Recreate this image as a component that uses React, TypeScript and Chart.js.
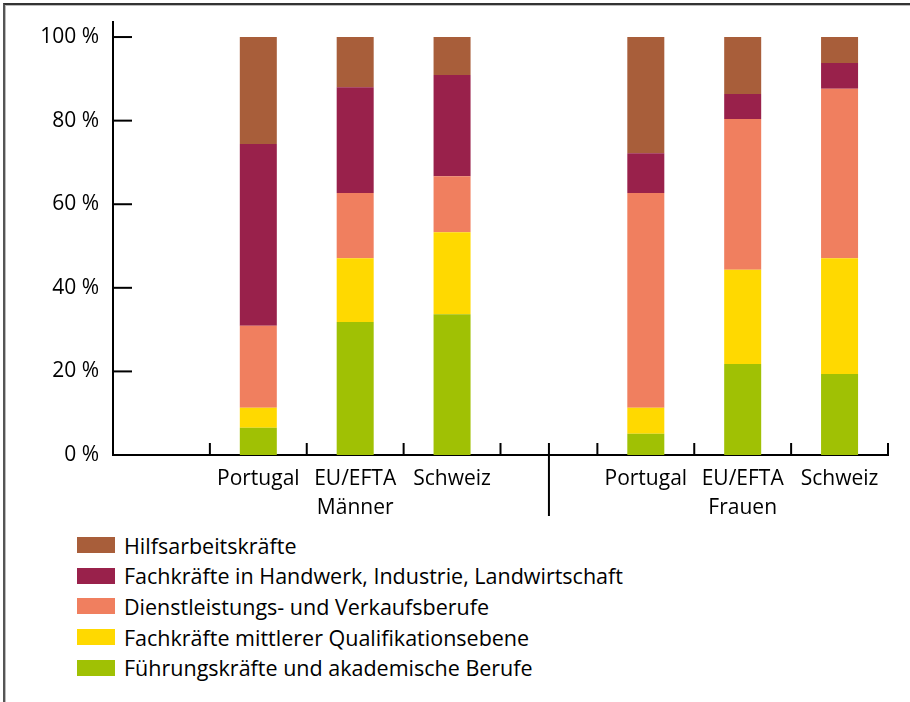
import React, { useEffect, useRef } from "react";
import { Chart, registerables } from "chart.js";

Chart.register(...registerables);

const categories: (string | string[])[] = [
  "",
  "Portugal",
  ["EU/EFTA", "Männer"],
  "Schweiz",
  "",
  "Portugal",
  ["EU/EFTA", "Frauen"],
  "Schweiz",
];

const fuehrung = [null, 6.5, 31.8, 33.7, null, 5.1, 21.8, 19.4];
const mittlere = [null, 4.8, 15.3, 19.6, null, 6.2, 22.5, 27.7];
const dienst = [null, 19.6, 15.6, 13.4, null, 51.4, 36.1, 40.5];
const handwerk = [null, 43.5, 25.3, 24.2, null, 9.5, 6.0, 6.2];
const hilfs = [null, 25.6, 12.0, 9.1, null, 27.8, 13.6, 6.2];

const yTicks = [0, 20, 40, 60, 80, 100];

const seriesNames = [
  "Führungskräfte und akademische Berufe",
  "Fachkräfte mittlerer Qualifikationsebene",
  "Dienstleistungs- und Verkaufsberufe",
  "Fachkräfte in Handwerk, Industrie, Landwirtschaft",
  "Hilfsarbeitskräfte",
];
const seriesColors = ["#A0C104", "#FFD900", "#F07F5F", "#99214B", "#A85E3A"];
const seriesData = [fuehrung, mittlere, dienst, handwerk, hilfs];

const FONT = "'Open Sans', 'Noto Sans', sans-serif";
const FONT_SIZE = 21;
const DIVIDER_INDEX = 4;

const axisMarks = {
  id: "axisMarks",
  afterDraw(chart: any) {
    const { ctx, scales } = chart;
    const x = scales.x;
    const y = scales.y;
    const base = y.getPixelForValue(0);
    ctx.save();
    ctx.strokeStyle = "#000";
    ctx.lineWidth = 2;
    ctx.lineCap = "butt";
    for (const t of y.ticks) {
      const py = y.getPixelForValue(t.value);
      ctx.beginPath();
      ctx.moveTo(x.left, py);
      ctx.lineTo(x.left + 19, py);
      ctx.stroke();
    }
    for (let i = 1; i <= categories.length; i++) {
      const px = x.getPixelForValue(i - 0.5);
      ctx.beginPath();
      ctx.moveTo(px, base);
      ctx.lineTo(px, base - 12);
      ctx.stroke();
    }
    const dx = x.getPixelForValue(DIVIDER_INDEX);
    ctx.beginPath();
    ctx.moveTo(dx, base - 12);
    ctx.lineTo(dx, base + 61);
    ctx.stroke();
    ctx.restore();
  },
};

function ChartCanvas() {
  const ref = useRef<HTMLCanvasElement | null>(null);
  useEffect(() => {
    if (!ref.current) return;
    const chart = new Chart(ref.current, {
      type: "bar",
      data: {
        labels: categories as any,
        datasets: seriesData.map((d, i) => ({
          label: seriesNames[i],
          data: d as any,
          backgroundColor: seriesColors[i],
          borderWidth: 0,
          barPercentage: 0.382,
          categoryPercentage: 1,
        })),
      },
      options: {
        responsive: false,
        animation: false,
        devicePixelRatio: 1,
        layout: { padding: { top: 22, right: 22, left: 0, bottom: 0 } },
        plugins: {
          legend: { display: false },
          tooltip: { enabled: false },
        },
        scales: {
          x: {
            stacked: true,
            offset: true,
            grid: { display: false, drawTicks: false },
            border: { display: true, color: "#000", width: 2 },
            ticks: {
              color: "#000",
              font: { family: FONT, size: FONT_SIZE, lineHeight: 1.4 },
              padding: 9,
              maxRotation: 0,
              autoSkip: false,
            },
            afterFit(scale: any) {
              scale.height = 75;
              scale.paddingLeft = 0;
              scale.paddingRight = 0;
            },
          },
          y: {
            stacked: true,
            min: 0,
            max: 103.6,
            grid: { display: false, drawTicks: false },
            border: { display: true, color: "#000", width: 2 },
            afterBuildTicks(scale: any) {
              scale.ticks = yTicks.map((v) => ({ value: v }));
            },
            ticks: {
              color: "#000",
              font: { family: FONT, size: FONT_SIZE },
              padding: 14,
              callback: (v: any) => `${v} %`,
            },
            afterFit(scale: any) {
              scale.width = 113;
              scale.paddingTop = 0;
              scale.paddingBottom = 0;
            },
          },
        },
      },
      plugins: [axisMarks],
    });
    return () => chart.destroy();
  }, []);
  return <canvas ref={ref} width={910} height={530} style={{ display: "block" }} />;
}

export default function App() {
  const legendOrder = [4, 3, 2, 1, 0];
  return (
    <div
      style={{
        position: "fixed",
        left: 0,
        top: 0,
        width: 910,
        height: 702,
        background: "#fff",
        overflow: "hidden",
      }}
    >
      <div
        style={{
          position: "absolute",
          left: 3,
          top: 3,
          width: 1000,
          height: 1000,
          borderTop: "2px solid #333",
          borderLeft: "2px solid #555",
          boxShadow: "inset 1px 1px 0 #bbb",
        }}
      />
      <div style={{ position: "absolute", left: 0, top: 0 }}>
        <ChartCanvas />
      </div>
      <div
        style={{
          position: "absolute",
          left: 77,
          top: 530,
          fontFamily: FONT,
          fontSize: 21.5,
          color: "#000",
        }}
      >
        {legendOrder.map((i) => (
          <div
            key={i}
            style={{ display: "flex", alignItems: "center", height: 30.6, whiteSpace: "nowrap" }}
          >
            <span
              style={{
                display: "inline-block",
                flex: "none",
                width: 38,
                height: 16,
                background: seriesColors[i],
                marginRight: 9,
              }}
            />
            <span>{seriesNames[i]}</span>
          </div>
        ))}
      </div>
    </div>
  );
}
